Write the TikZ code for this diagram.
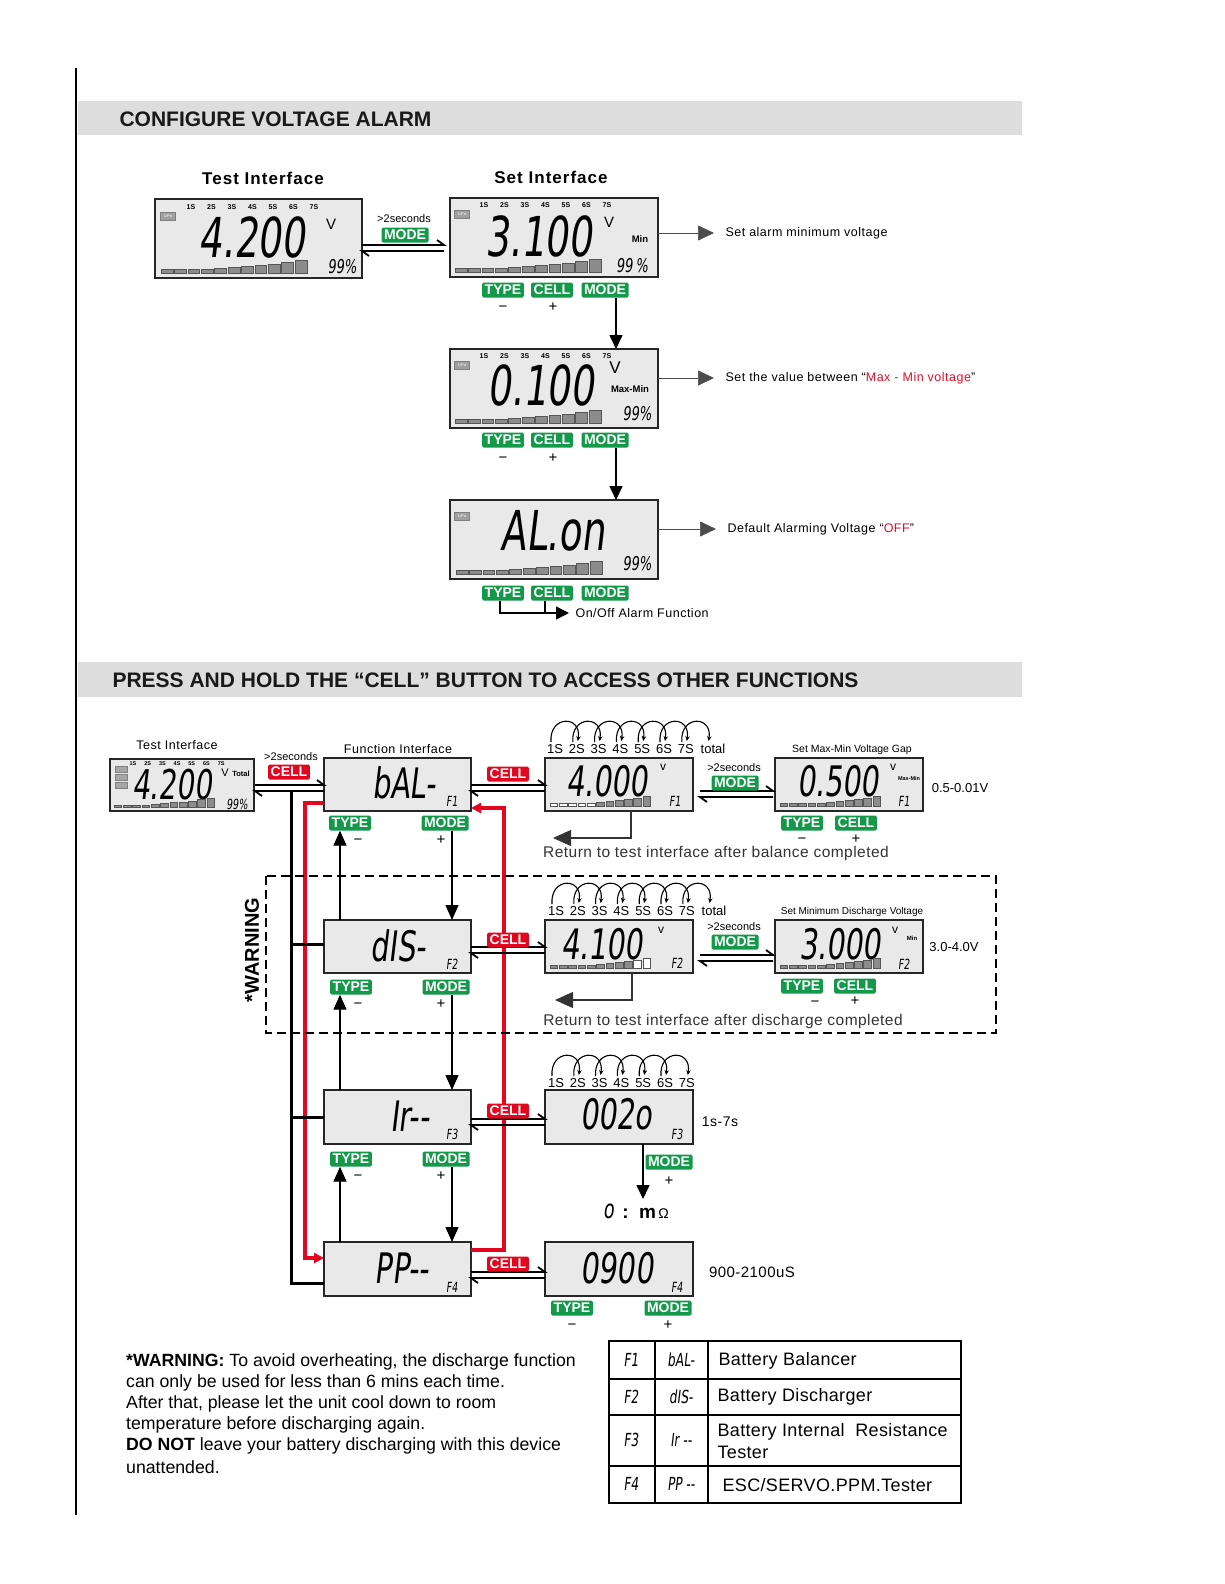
\documentclass[tikz,border=0pt]{standalone}
\usepackage{fontspec}
\setmainfont{Liberation Sans}
\newfontfamily\lcdf[FakeSlant=0.12,FakeStretch=0.68]{DejaVu Sans}
\usetikzlibrary{arrows.meta}
\definecolor{lcdbg}{HTML}{E9E9E9}
\definecolor{hdr}{HTML}{DDDDDD}
\definecolor{bgreen}{HTML}{14984A}
\definecolor{bred}{HTML}{E3061F}
\definecolor{barg}{HTML}{8C8C8C}
\definecolor{bard}{HTML}{555555}
\definecolor{txtred}{HTML}{E0102A}
\newcommand\myfs[1]{\fontsize{#1}{#1}\selectfont}
\newcommand\lcdbox[5]{\node[lcd, minimum width={#4-#2}, minimum height={#5-#3}] (#1) at ({(#2+#4)/2},{(#3+#5)/2}) {};}
\newcommand\batt[6]{%
 \foreach \h [count=\i from 0] in {3,3,3,3,4,5,6,7,8,10,12}{%
   \ifnum\i<#5\relax\def\fc{white}\else\ifnum\i>#6\relax\def\fc{white}\else\def\fc{barg}\fi\fi
   \filldraw[draw=bard,line width=0.5pt,fill=\fc] ({#1+\i*#3},#2) rectangle ({#1+\i*#3+#3-1.6},{#2-\h*#4});
 }}
\newcommand\seglbl[4]{\foreach \k in {1,...,7}{\node[inner sep=0,font=\bfseries\myfs{#4}] at ({#1+(\k-1)*#3},#2) {\k S};}}
\newcommand\biglbl[3]{\foreach \k in {1,...,7}{\node[inner sep=0,font=\myfs{13}] at ({#1+(\k-1)*#3},#2) {\k S};}}
\newcommand\cellarcs[4]{%
 \foreach \k in {1,...,#4}{%
  \draw[line width=1.1pt,-{Stealth[length=5pt,width=4.5pt]}] ({#1+(\k-1)*#3-4},{#2-7}) .. controls ({#1+(\k-1)*#3-6},{#2-34}) and ({#1+\k*#3+5},{#2-34}) .. ({#1+\k*#3+1},{#2-8});
 }}
\newcommand\dbl[5]{%
 \path (#1.east|-0,#3) coordinate (da) (#2.west|-0,#3) coordinate (db);
 \draw[dblarr] ([xshift=#4pt]da) -- ([xshift=-#5pt]db) -- ++(-7,-5);
 \draw[dblarr] ([xshift=-#5pt,yshift=-6pt]db) -- ([xshift=#4pt,yshift=-6pt]da) -- ++(7,5);
}
\begin{document}
\begin{tikzpicture}[x=1pt,y=-1pt,
  lcd/.style={draw=black!85, line width=1.6pt, fill=lcdbg, inner sep=0, outer sep=0},
  gbtn/.style={fill=bgreen, text=white, font=\bfseries\myfs{14}, inner xsep=2.5pt, inner ysep=0pt, minimum height=15, rounded corners=1.5pt},
  rbtn/.style={fill=bred, text=white, font=\bfseries\myfs{14}, inner xsep=2.5pt, inner ysep=0pt, minimum height=15, rounded corners=1.5pt},
  lipo/.style={fill=gray!75, draw=gray, text=white, font=\myfs{4}, inner sep=0.8pt, minimum width=15, minimum height=8},
  pct/.style={inner sep=0, font=\lcdf\myfs{19}},
  sgn/.style={inner sep=0, font=\myfs{15}},
  ttl/.style={font=\bfseries\myfs{17}\addfontfeature{LetterSpace=6}},
  hdrtxt/.style={anchor=west, font=\bfseries\myfs{21}, text=black!90},
  ptr/.style={draw=black!70, line width=0.7pt, -{Triangle[length=16pt,width=15pt]}},
  bigarr/.style={line width=1.6pt, -{Triangle[length=14pt,width=13pt]}},
  chainarr/.style={line width=1.2pt, -{Triangle[length=15pt,width=13pt]}},
  retarr/.style={line width=1.3pt, draw=black!80, -{Triangle[length=18pt,width=16pt]}},
  redl/.style={draw=bred, line width=3.2pt},
  dblarr/.style={line width=1.8pt},
  note/.style={anchor=west, font=\myfs{12.5}\addfontfeature{LetterSpace=4}},
  rettxt/.style={font=\myfs{15.5}\addfontfeature{LetterSpace=3}, text=black!80},
  tbl/.style={anchor=west, font=\myfs{18}\addfontfeature{LetterSpace=2}},
  tlcd/.style={font=\lcdf\myfs{18}}
]
\useasboundingbox (0,0) rectangle (1224,1584);
\fill[white] (0,0) rectangle (1224,1584);

% left rule
\draw[line width=1.3pt] (76,68) -- (76,1515);

% headers
\fill[hdr] (78,101) rectangle (1022,135);
\node[hdrtxt] (h1) at (116,119) {CONFIGURE VOLTAGE ALARM};
\fill[hdr] (78,662) rectangle (1022,697);
\node[hdrtxt] (h2) at (109,680) {PRESS AND HOLD THE “CELL” BUTTON TO ACCESS OTHER FUNCTIONS};

%================ TOP SECTION
\node[ttl] (tt1) at (263,178) {Test Interface};
\node[ttl] (tt2) at (551,177) {Set Interface};

% LCD1
\lcdbox{L1}{155}{199}{362}{278}
\seglbl{191}{207}{20.5}{7}
\node[lipo] at (168,216) {LiPo};
\node[inner sep=0,font=\lcdf\myfs{55}] at (252,237) {4.200};
\node[inner sep=0,font=\myfs{15}] at (331,224) {V};
\node[pct] at (342,267) {99\%};
\batt{161}{273}{13.4}{1.1}{0}{10}

\node[font=\myfs{11}] at (404,219) {>2seconds};
\node[gbtn] at (405,235) {MODE};

% LCD2
\lcdbox{L2}{450}{198}{658}{277}
\seglbl{484}{205}{20.5}{7}
\node[lipo] at (462,214) {LiPo};
\node[inner sep=0,font=\lcdf\myfs{55}] at (539,236) {3.100};
\node[inner sep=0,font=\myfs{15}] at (609,222) {V};
\node[inner sep=0,font=\bfseries\myfs{9.5}] at (640,239) {Min};
\node[pct] at (632,266) {99\,\%};
\batt{455}{272}{13.4}{1.1}{0}{10}
\dbl{L1}{L2}{245}{0}{6}
\node[gbtn] (t2) at (503,290) {TYPE};
\node[gbtn] (c2) at (552,290) {CELL};
\node[gbtn] (m2) at (605,290) {MODE};
\node[sgn] at (503,309) {−};
\node[sgn] at (553,307) {+};
\node[note] (p1) at (722,233) {Set alarm minimum voltage};
\draw[ptr] (L2.east|-p1) -- ([xshift=-8pt]p1.west);

% LCD3
\lcdbox{L3}{450}{349}{658}{428}
\seglbl{484}{356}{20.5}{7}
\node[lipo] at (462,365) {LiPo};
\node[inner sep=0,font=\lcdf\myfs{55}] at (541,385) {0.100};
\node[inner sep=0,font=\myfs{17}] at (615,368) {V};
\node[inner sep=0,font=\bfseries\myfs{9.5}] at (630,389) {Max-Min};
\node[pct] at (637,414) {99\%};
\batt{455}{423}{13.4}{1.1}{0}{10}
\draw[bigarr] (m2.south -| 616,0) -- (L3.north -| 616,0);
\node[gbtn] (t3) at (503,440) {TYPE};
\node[gbtn] (c3) at (552,440) {CELL};
\node[gbtn] (m3) at (605,440) {MODE};
\node[sgn] at (503,460) {−};
\node[sgn] at (553,458) {+};
\node[note] (p2) at (722,378) {Set the value between “\textcolor{txtred}{Max - Min voltage}”};
\draw[ptr] (L3.east|-p2) -- ([xshift=-8pt]p2.west);

% LCD4
\lcdbox{L4}{450}{500}{658}{579}
\node[lipo] at (462,516) {LiPo};
\node[inner sep=0,font=\lcdf\myfs{55}] at (553,531) {AL.on};
\node[pct] at (637,564) {99\%};
\batt{456}{574}{13.4}{1.1}{0}{10}
\draw[bigarr] (m3.south -| 616,0) -- (L4.north -| 616,0);
\node[gbtn] (t4) at (503,593) {TYPE};
\node[gbtn] (c4) at (552,593) {CELL};
\node[gbtn] (m4) at (605,593) {MODE};
\node[note] (p3) at (724,529) {Default Alarming Voltage “\textcolor{txtred}{OFF}”};
\draw[ptr] (L4.east|-p3) -- ([xshift=-8pt]p3.west);
\node[note] (onoff) at (572,613) {On/Off Alarm Function};
\draw[line width=1.4pt, -{Triangle[length=13pt,width=13pt]}] (t4.south -| 500,0) |- ([xshift=-3pt]onoff.west);
\draw[line width=1.4pt] (c4.south -| 545,0) -- (545,613);

%================ BOTTOM SECTION
\node[font=\myfs{12.5}\addfontfeature{LetterSpace=4}] at (177,745) {Test Interface};
\lcdbox{T5}{110}{759}{254}{811}
\seglbl{133}{764}{14.7}{5.5}
\foreach \yy in {769,777,785} \filldraw[fill=gray!70,draw=gray] (115,\yy-3) rectangle (127,\yy+3);
\node[inner sep=0,font=\lcdf\myfs{41}] at (172,785) {4.200};
\node[inner sep=0,font=\myfs{11}] at (225,773) {V};
\node[inner sep=0,font=\bfseries\myfs{7.5}] at (241,774) {Total};
\node[inner sep=0,font=\lcdf\myfs{14}] at (237,804) {99\%};
\batt{114}{807}{9.3}{0.75}{0}{10}
\node[font=\myfs{11}] at (291,757) {>2seconds};

\node[font=\myfs{12.5}\addfontfeature{LetterSpace=4}] at (398,749) {Function Interface};

% function boxes
\lcdbox{bal}{324}{758}{471}{811}
\lcdbox{dis}{324}{920}{471}{973}
\lcdbox{ir}{324}{1090}{471}{1144}
\lcdbox{pp}{324}{1242}{471}{1296}
\node[inner sep=0,font=\lcdf\myfs{42}] at (404,783) {bAL-};
\node[inner sep=0,font=\lcdf\myfs{14}] at (452,801) {F1};
\node[inner sep=0,font=\lcdf\myfs{42}] at (398,946) {dIS-};
\node[inner sep=0,font=\lcdf\myfs{14}] at (452,964) {F2};
\node[inner sep=0,font=\lcdf\myfs{42}] at (410,1116) {Ir--};
\node[inner sep=0,font=\lcdf\myfs{14}] at (452,1134) {F3};
\node[inner sep=0,font=\lcdf\myfs{42}] at (402,1268) {PP--};
\node[inner sep=0,font=\lcdf\myfs{14}] at (452,1287) {F4};

% red loop and black bus (behind buttons)
\draw[redl, -{Triangle[length=10pt,width=10pt]}] (bal.west|-0,803) -- (305,803) -- (305,1258) -- (pp.west|-0,1258);
\draw[redl, -{Triangle[length=10pt,width=10pt]}] (pp.east|-0,1250) -- (504,1250) -- (504,808) -- (bal.east|-0,808);
\draw[line width=3pt] (291,791) -- (291,1283) -- (pp.west|-0,1283);
\draw[line width=3pt] (291,944) -- (dis.west|-0,944);
\draw[line width=3pt] (291,1117) -- (ir.west|-0,1117);

% display LCDs
\lcdbox{d1}{545}{758}{693}{811}
\lcdbox{s1}{775}{758}{923}{811}
\lcdbox{d2}{545}{920}{693}{973}
\lcdbox{s2}{775}{920}{923}{973}
\lcdbox{d3}{545}{1090}{693}{1144}
\lcdbox{d4}{545}{1242}{693}{1296}

% double arrows
\dbl{T5}{bal}{785}{1}{0}
\dbl{bal}{d1}{785}{0}{0}
\dbl{d1}{s1}{791}{7}{2}
\dbl{dis}{d2}{947}{0}{0}
\dbl{d2}{s2}{955}{7}{2}
\dbl{ir}{d3}{1119}{0}{0}
\dbl{pp}{d4}{1272}{0}{0}

% CELL badges
\node[rbtn] at (289,772) {CELL};
\node[rbtn] at (508,774) {CELL};
\node[rbtn] at (508,940) {CELL};
\node[rbtn] at (508,1111) {CELL};
\node[rbtn] at (508,1264) {CELL};

% chain buttons and arrows
\node[gbtn] (bT) at (350,823) {TYPE};
\node[gbtn] (bM) at (445,823) {MODE};
\node[sgn] at (358,842) {−};
\node[sgn] at (441,840) {+};
\node[gbtn] (dT) at (351,987) {TYPE};
\node[gbtn] (dM) at (446,987) {MODE};
\node[sgn] at (358,1006) {−};
\node[sgn] at (441,1004) {+};
\node[gbtn] (iT) at (351,1159) {TYPE};
\node[gbtn] (iM) at (446,1159) {MODE};
\node[sgn] at (358,1178) {−};
\node[sgn] at (441,1176) {+};
\draw[chainarr] (bM.south -| 452,0) -- (dis.north -| 452,0);
\draw[chainarr] (dis.north -| 340,0) -- (bT.south -| 340,0);
\draw[chainarr] (dM.south -| 452,0) -- (ir.north -| 452,0);
\draw[chainarr] (ir.north -| 340,0) -- (dT.south -| 340,0);
\draw[chainarr] (iM.south -| 452,0) -- (pp.north -| 452,0);
\draw[chainarr] (pp.north -| 340,0) -- (iT.south -| 340,0);

% ---- F1 row displays
\cellarcs{555}{749}{21.8}{7}
\biglbl{555}{749}{21.8}
\node[inner sep=0,font=\myfs{13}] at (713,749) {total};
\node[inner sep=0,font=\lcdf\myfs{42}] at (607,781) {4.000};
\node[inner sep=0,font=\myfs{12}] at (663,767) {v};
\node[inner sep=0,font=\lcdf\myfs{14}] at (675,801) {F1};
\batt{550}{806}{9.3}{0.8}{5}{10}
\node[font=\myfs{11}] at (734,768) {>2seconds};
\node[gbtn] at (735,783) {MODE};
\node[font=\myfs{10.5}] at (852,750) {Set Max-Min Voltage Gap};
\node[inner sep=0,font=\lcdf\myfs{42}] at (838,781) {0.500};
\node[inner sep=0,font=\myfs{12}] at (893,767) {v};
\node[inner sep=0,font=\bfseries\myfs{5.5}] at (909,779) {Max-Min};
\node[inner sep=0,font=\lcdf\myfs{14}] at (904,801) {F1};
\batt{780}{806}{9.3}{0.8}{0}{10}
\node[gbtn] at (802,823) {TYPE};
\node[gbtn] at (856,823) {CELL};
\node[sgn] at (802,841) {−};
\node[sgn] at (856,839) {+};
\node[font=\myfs{13}] at (960,788) {0.5-0.01V};
\node[rettxt] (r1) at (716,853) {Return to test interface after balance completed};
\draw[retarr] (d1.south -| 631,0) |- (553,838);

% ---- warning box
\draw[dash pattern=on 9pt off 5pt, line width=1.3pt] (266,876) rectangle (996,1033);
\node[rotate=90, font=\bfseries\myfs{20}] at (252,950) {*WARNING};

% ---- F2 row displays
\cellarcs{556}{911}{21.8}{7}
\biglbl{556}{911}{21.8}
\node[inner sep=0,font=\myfs{13}] at (714,911) {total};
\node[inner sep=0,font=\lcdf\myfs{42}] at (602,944) {4.100};
\node[inner sep=0,font=\myfs{12}] at (661,930) {v};
\node[inner sep=0,font=\lcdf\myfs{14}] at (677,963) {F2};
\batt{550}{968}{9.3}{0.8}{0}{8}
\node[font=\myfs{11}] at (734,927) {>2seconds};
\node[gbtn] at (735,942) {MODE};
\node[font=\myfs{10}] at (852,912) {Set Minimum Discharge Voltage};
\node[inner sep=0,font=\lcdf\myfs{42}] at (840,944) {3.000};
\node[inner sep=0,font=\myfs{12}] at (895,930) {v};
\node[inner sep=0,font=\bfseries\myfs{6}] at (912,938) {Min};
\node[inner sep=0,font=\lcdf\myfs{14}] at (904,964) {F2};
\batt{780}{968}{9.3}{0.8}{0}{10}
\node[gbtn] at (802,986) {TYPE};
\node[gbtn] at (855,986) {CELL};
\node[sgn] at (815,1004) {−};
\node[sgn] at (855,1001) {+};
\node[font=\myfs{13}] at (954,947) {3.0-4.0V};
\node[rettxt] (r2) at (723,1021) {Return to test interface after discharge completed};
\draw[retarr] (d2.south -| 632,0) |- (555,1000);

% ---- F3 row displays
\cellarcs{556}{1083}{21.8}{6}
\biglbl{556}{1083}{21.8}
\node[inner sep=0,font=\lcdf\myfs{42}] at (616,1114) {002o};
\node[inner sep=0,font=\lcdf\myfs{14}] at (677,1134) {F3};
\node[font=\myfs{14}\addfontfeature{LetterSpace=4}] at (720,1122) {1s-7s};
\node[gbtn] at (669,1162) {MODE};
\node[sgn] at (669,1181) {+};
\node (ohm) at (636,1211) {{\lcdf\myfs{26}o}\ \ \ {\bfseries\myfs{19}:\ \ m}{\myfs{14}\,Ω}};
\draw[bigarr] (d3.south -| 643,0) -- (643,1199);

% ---- F4 row displays
\node[inner sep=0,font=\lcdf\myfs{42}] at (617,1268) {0900};
\node[inner sep=0,font=\lcdf\myfs{14}] at (677,1287) {F4};
\node[font=\myfs{15}\addfontfeature{LetterSpace=3}] at (752,1272) {900-2100uS};
\node[gbtn] at (572,1308) {TYPE};
\node[gbtn] at (668,1308) {MODE};
\node[sgn] at (572,1327) {−};
\node[sgn] at (668,1325) {+};

% ---- warning text
\begin{scope}[every node/.style={anchor=west, inner sep=0, font=\myfs{17.7}}]
\node at (126,1362) {\textbf{*WARNING:} To avoid overheating, the discharge function};
\node at (126,1383) {can only be used for less than 6 mins each time.};
\node at (126,1404) {After that, please let the unit cool down to room};
\node at (126,1425) {temperature before discharging again.};
\node at (126,1446) {\textbf{DO NOT} leave your battery discharging with this device};
\node at (126,1467) {unattended.};
\end{scope}

% ---- table
\draw[line width=2.5pt] (609,1341) rectangle (961,1503);
\foreach \yy in {1379,1415,1466} \draw[line width=2pt] (609,\yy) -- (961,\yy);
\draw[line width=1.5pt] (655,1341) -- (655,1503);
\draw[line width=1.5pt] (708,1341) -- (708,1503);
\node[tlcd] at (631,1360) {F1};
\node[tlcd] at (681,1360) {bAL-};
\node[tbl] at (715,1361) {Battery Balancer};
\node[tlcd] at (631,1397) {F2};
\node[tlcd] at (681,1397) {dIS-};
\node[tbl] at (714,1397) {Battery Discharger};
\node[tlcd] at (631,1440) {F3};
\node[tlcd] at (681,1440) {Ir --};
\node[tbl] at (714,1432) {Battery Internal \ Resistance};
\node[tbl] at (714,1452) {Tester};
\node[tlcd] at (631,1484) {F4};
\node[tlcd] at (681,1484) {PP --};
\node[tbl] at (719,1485) {ESC/SERVO.PPM.Tester};
\end{tikzpicture}
\end{document}
